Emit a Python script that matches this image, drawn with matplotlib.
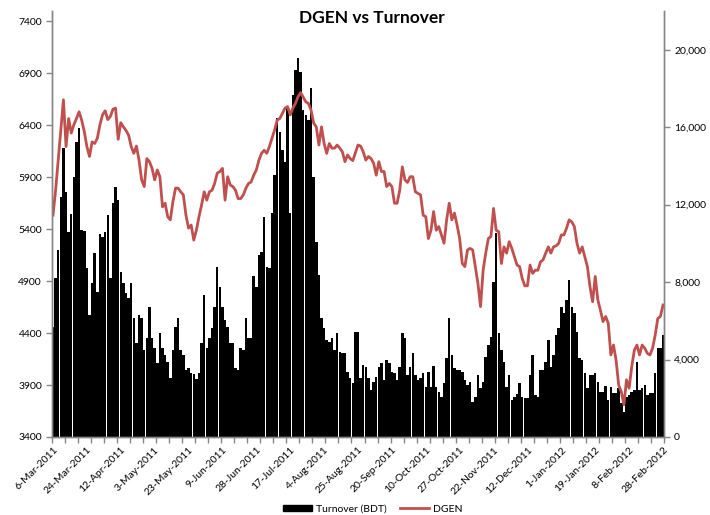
import matplotlib
matplotlib.use("Agg")
import matplotlib.pyplot as plt
from matplotlib.patches import Patch
from matplotlib.lines import Line2D
from matplotlib.ticker import FixedLocator, StrMethodFormatter

plt.rcParams["font.family"] = ["Lato", "DejaVu Sans"]

# daily turnover (BDT mn), one value per trading day, 6-Mar-2011 .. 28-Feb-2012
turnover = [
    5700, 8190, 9660, 12410, 14910, 12670, 10600, 11500, 13440, 15250,
    15940, 10690, 10660, 8710, 6300, 7940, 9490, 7510, 10480, 10310,
    10600, 11460, 8230, 12100, 12930, 12240, 8540, 7940, 7420, 7160,
    7940, 6130, 4840, 6300, 6130, 4490, 5100, 6700, 5100, 4580,
    3800, 5350, 4580, 4230, 3890, 3030, 4490, 5700, 6130, 4490,
    4230, 3460, 3550, 3290, 3250, 2980, 3320, 4840, 7330, 4580,
    5100, 5610, 6730, 8800, 7760, 6730, 6040, 5700, 4840, 4840,
    3550, 3460, 4580, 4490, 6130, 5100, 5100, 8310, 7760, 9400,
    9570, 11380, 8800, 8710, 11550, 13530, 16460, 15770, 14820, 14220,
    16970, 11550, 17660, 18950, 19560, 18870, 16890, 16630, 16370, 18010,
    13440, 10090, 8370, 6130, 5610, 5010, 4920, 5100, 4490, 5350,
    4410, 4320, 4320, 3370, 3030, 2810, 5440, 5440, 3030, 3720,
    3630, 3030, 2430, 2860, 3120, 3630, 3800, 2940, 3980, 3800,
    3370, 3290, 2940, 3630, 5350, 5100, 3200, 3630, 4320, 3200,
    2940, 3030, 3290, 2600, 3370, 2600, 3670, 2600, 2340, 2080,
    2770, 4060, 6130, 4230, 3550, 3460, 3460, 3370, 2940, 2690,
    2860, 1820, 2080, 3200, 2510, 2860, 4150, 4750, 5180, 8020,
    10520, 5350, 4490, 3890, 2600, 3200, 1910, 2080, 2220, 2770,
    2080, 2000, 2000, 3200, 4230, 2170, 2080, 3460, 3460, 3890,
    5010, 3630, 4230, 5270, 5610, 6730, 6390, 7080, 8110, 6730,
    6390, 5440, 4060, 3980, 3290, 2510, 3200, 3200, 3290, 2860,
    2340, 2340, 2630, 1910, 2600, 2260, 2260, 2510, 1740, 1310,
    2080, 2170, 2340, 2430, 3890, 2430, 2510, 2690, 2170, 2260,
    2260, 3290, 4580, 4580, 5270,
]

# DSE general index close, same trading days
dgen = [
    5535, 5775, 6065, 6355, 6645, 6195, 6465, 6325, 6405, 6465,
    6530, 6450, 6340, 6195, 6100, 6240, 6225, 6275, 6405, 6500,
    6540, 6455, 6485, 6555, 6565, 6265, 6425, 6385, 6350, 6305,
    6195, 6130, 6200, 6065, 5875, 5810, 6080, 6050, 5985, 5875,
    5970, 5905, 5615, 5650, 5520, 5490, 5665, 5795, 5795, 5760,
    5730, 5535, 5410, 5440, 5295, 5390, 5520, 5635, 5760, 5680,
    5760, 5775, 5840, 5940, 5955, 5985, 5680, 5905, 5825, 5810,
    5775, 5695, 5695, 5730, 5795, 5840, 5855, 5920, 5970, 6065,
    6130, 6160, 6130, 6195, 6275, 6355, 6450, 6465, 6515, 6565,
    6580, 6500, 6565, 6610, 6675, 6715, 6670, 6625, 6610, 6545,
    6420, 6385, 6210, 6385, 6225, 6130, 6225, 6180, 6180, 6210,
    6180, 6145, 6050, 6115, 6080, 6060, 6135, 6210, 6200, 6145,
    6065, 6100, 6080, 6035, 5920, 6050, 5955, 5955, 5810, 5840,
    5810, 5650, 5650, 5775, 6000, 5875, 5850, 5905, 5905, 5760,
    5745, 5730, 5535, 5520, 5310, 5390, 5570, 5390, 5425, 5345,
    5265, 5490, 5650, 5490, 5555, 5440, 5310, 5070, 5040, 5200,
    5215, 5200, 5040, 4880, 4655, 5005, 5170, 5310, 5330, 5600,
    5390, 5375, 5070, 5230, 5170, 5280, 5215, 5135, 5055, 5040,
    4925, 4855, 4855, 5055, 4975, 5005, 5005, 5085, 5105, 5170,
    5230, 5170, 5230, 5240, 5265, 5345, 5345, 5410, 5490, 5470,
    5425, 5265, 5170, 5230, 5135, 5040, 4845, 4702, 4945, 4720,
    4620, 4510, 4560, 4495, 4190, 4285, 4140, 3900, 3835, 3710,
    3950, 3870, 4075, 4235, 4285, 4190, 4285, 4255, 4205, 4190,
    4255, 4380, 4540, 4560, 4670,
]

tick_labels = [
    "6-Mar-2011", "24-Mar-2011", "12-Apr-2011", "3-May-2011", "23-May-2011",
    "9-Jun-2011", "28-Jun-2011", "17-Jul-2011", "4-Aug-2011", "25-Aug-2011",
    "20-Sep-2011", "10-Oct-2011", "27-Oct-2011", "22-Nov-2011", "12-Dec-2011",
    "1-Jan-2012", "19-Jan-2012", "8-Feb-2012", "28-Feb-2012",
]

n = len(turnover)
x = list(range(n))
red = "#C0504D"
grey = "#868686"

fig = plt.figure(figsize=(7.1, 5.15), dpi=100)
ax = fig.add_axes([51.7 / 710, 1 - 437 / 515, (664.3 - 51.7) / 710, (437 - 11) / 515])
ax.bar(x, turnover, width=0.95, color="black", linewidth=0)
ax.set_ylim(0, 22000)
ax.set_xlim(-0.5, n - 0.5)

ax2 = ax.twinx()
ax2.plot(x, dgen, color=red, linewidth=2.0, solid_joinstyle="round")
ax2.set_ylim(3400, 7500)

ax.yaxis.set_ticks_position("right")
ax.yaxis.set_label_position("right")
ax2.yaxis.set_ticks_position("left")
ax2.yaxis.set_label_position("left")
ax.set_yticks(range(0, 20001, 4000))
ax.yaxis.set_major_formatter(StrMethodFormatter("{x:,.0f}"))
ax2.set_yticks(range(3400, 7401, 500))

for a in (ax, ax2):
    a.spines["top"].set_visible(False)
    for s in ("left", "right", "bottom"):
        a.spines[s].set_color(grey)
        a.spines[s].set_linewidth(1.0)
    a.tick_params(axis="y", colors=grey, labelcolor="black", labelsize=7.5,
                  length=4, width=1, direction="out", pad=3)

ax.set_xticks(range(0, n, 13))
ax.set_xticklabels(tick_labels, rotation=45, ha="right", rotation_mode="anchor")
ax.xaxis.set_minor_locator(FixedLocator([k - 0.5 for k in range(0, n + 1, 5)]))
ax.tick_params(axis="x", which="major", length=0, labelsize=7.5, pad=6)
ax.tick_params(axis="x", which="minor", length=4, width=1, color=grey, direction="out")

fig.text(0.524, 1 - 18 / 515, "DGEN vs Turnover", ha="center", va="center",
         fontsize=12.5, fontweight="bold")

handles = [Patch(facecolor="black", edgecolor="black"),
           Line2D([0], [0], color=red, linewidth=2.0)]
fig.legend(handles, ["Turnover (BDT)", "DGEN"], loc="center", ncol=2,
           bbox_to_anchor=(0.525, 1 - 509 / 515), frameon=False, fontsize=7.5,
           handlelength=2.8, handleheight=0.6, columnspacing=1.2, handletextpad=0.4)

fig.savefig("out.png", dpi=100)
